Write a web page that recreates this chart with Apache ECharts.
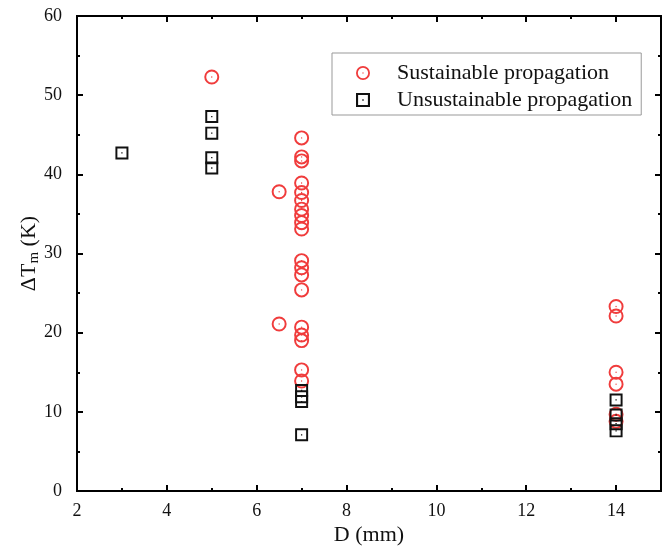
<!DOCTYPE html>
<html>
<head>
<meta charset="utf-8">
<script src="https://cdn.jsdelivr.net/npm/echarts@6/dist/echarts.min.js"></script>
<style>
    html, body { margin: 0; padding: 0; background: #fff; }
    #chartDom { width: 662px; height: 551px; }
</style>
</head>
<body>
<div id="chartDom"></div>
<script>
// data
let susD = [5, 6.5, 6.5,
    7, 7, 7, 7, 7, 7, 7, 7, 7, 7, 7, 7, 7, 7, 7, 7, 7, 7, 7,
    14, 14, 14, 14, 14, 14];
let susT = [52.3, 37.8, 21.1,
    44.6, 42.2, 41.7, 38.9, 37.7, 36.7, 35.6, 34.8, 33.9, 33.1, 29.1, 28.2, 27.3, 25.4, 20.7, 19.7, 19.0, 15.3, 13.9,
    23.3, 22.1, 15.0, 13.5, 9.7, 8.8];
let unsD = [3, 5, 5, 5, 5, 7, 7, 7, 7, 14, 14, 14, 14];
let unsT = [42.7, 47.3, 45.2, 42.1, 40.8, 12.7, 11.9, 11.3, 7.1, 11.5, 9.6, 8.5, 7.6];
let xTicks = [2, 15];
let yTicks = [0, 60];

window.onload = function () {
    let chartDom = document.getElementById('chartDom');
    let chart = echarts.init(chartDom);

    let font = '"Liberation Serif", "Times New Roman", serif';
    let red = '#f03c3c';

    // ring with a dot in the middle, and square with a dot
    let ringPath = 'path://M0 10 A10 10 0 1 0 20 10 A10 10 0 1 0 0 10 Z ' +
        'M2.6 10 A7.4 7.4 0 1 1 17.4 10 A7.4 7.4 0 1 1 2.6 10 Z ' +
        'M9.1 10 A0.9 0.9 0 1 0 10.9 10 A0.9 0.9 0 1 0 9.1 10 Z';
    let squarePath = 'path://M0 0 H20 V20 H0 Z M3 3 V17 H17 V3 Z M9 9 H11 V11 H9 Z';

    let pairs = (xs, ys) => xs.map((x, i) => [x, ys[i]]);

    let lineStyle = { color: '#000', width: 2 };

    function xAxis(position, interval, tickLen, showLabel, name) {
        return {
            type: 'value',
            position: position,
            min: xTicks[0],
            max: xTicks[1],
            interval: interval,
            name: name || '',
            nameLocation: 'middle',
            nameGap: 33,
            nameMoveOverlap: false,
            nameTextStyle: { fontFamily: font, fontSize: 22, color: '#111' },
            axisLine: { show: true, onZero: false, lineStyle: lineStyle },
            axisTick: { show: true, inside: true, length: tickLen, lineStyle: { color: '#000', width: 2 } },
            axisLabel: {
                show: showLabel,
                showMaxLabel: false,
                margin: 11,
                fontFamily: font,
                fontSize: 18,
                color: '#111'
            },
            splitLine: { show: false }
        };
    }

    function yAxis(position, showLabel, name) {
        return {
            type: 'value',
            position: position,
            min: yTicks[0],
            max: yTicks[1],
            interval: 10,
            name: name || '',
            nameLocation: 'middle',
            nameGap: 35,
            nameMoveOverlap: false,
            nameTextStyle: {
                fontFamily: font,
                fontSize: 22,
                color: '#111',
                rich: {
                    a: { fontFamily: font, fontSize: 22, color: '#111' },
                    s: { fontFamily: font, fontSize: 15, color: '#111', verticalAlign: 'bottom', padding: [10, 0, 0, 0] }
                }
            },
            axisLine: { show: true, onZero: false, lineStyle: lineStyle },
            axisTick: { show: true, inside: true, length: 6, lineStyle: { color: '#000', width: 2 } },
            minorTick: { show: true, splitNumber: 2, length: 3, lineStyle: { color: '#000', width: 2 } },
            axisLabel: {
                show: showLabel,
                margin: 15,
                fontFamily: font,
                fontSize: 18,
                color: '#111'
            },
            splitLine: { show: false },
            minorSplitLine: { show: false }
        };
    }

    let option = {
        backgroundColor: '#fff',
        animation: false,
        grid: {
            left: 77,
            right: 1,
            top: 16,
            bottom: 60,
            containLabel: false
        },
        legend: {
            orient: 'vertical',
            left: 332,
            top: 53,
            padding: [9, 9, 4, 24],
            itemWidth: 14,
            itemHeight: 14,
            itemGap: 5,
            borderColor: '#999',
            borderWidth: 1,
            textStyle: {
                fontFamily: font,
                fontSize: 22,
                color: '#111',
                padding: [0, 0, 0, 22]
            },
            data: ['Sustainable propagation', 'Unsustainable propagation']
        },
        xAxis: [
            xAxis('bottom', 2, 6, true, 'D (mm)'),
            xAxis('top', 2, 6, false),
            xAxis('bottom', 1, 3, false),
            xAxis('top', 1, 3, false)
        ],
        yAxis: [
            yAxis('left', true, '{a|ΔT}{s|m}{a| (K)}'),
            yAxis('right', false)
        ],
        series: [
            {
                name: 'Sustainable propagation',
                type: 'scatter',
                symbol: ringPath,
                symbolSize: 15,
                itemStyle: { color: red, opacity: 1 },
                data: pairs(susD, susT)
            },
            {
                name: 'Unsustainable propagation',
                type: 'scatter',
                symbol: squarePath,
                symbolSize: 13,
                itemStyle: { color: '#111', opacity: 1 },
                data: pairs(unsD, unsT)
            }
        ]
    };

    chart.setOption(option);
};
</script>
</body>
</html>
